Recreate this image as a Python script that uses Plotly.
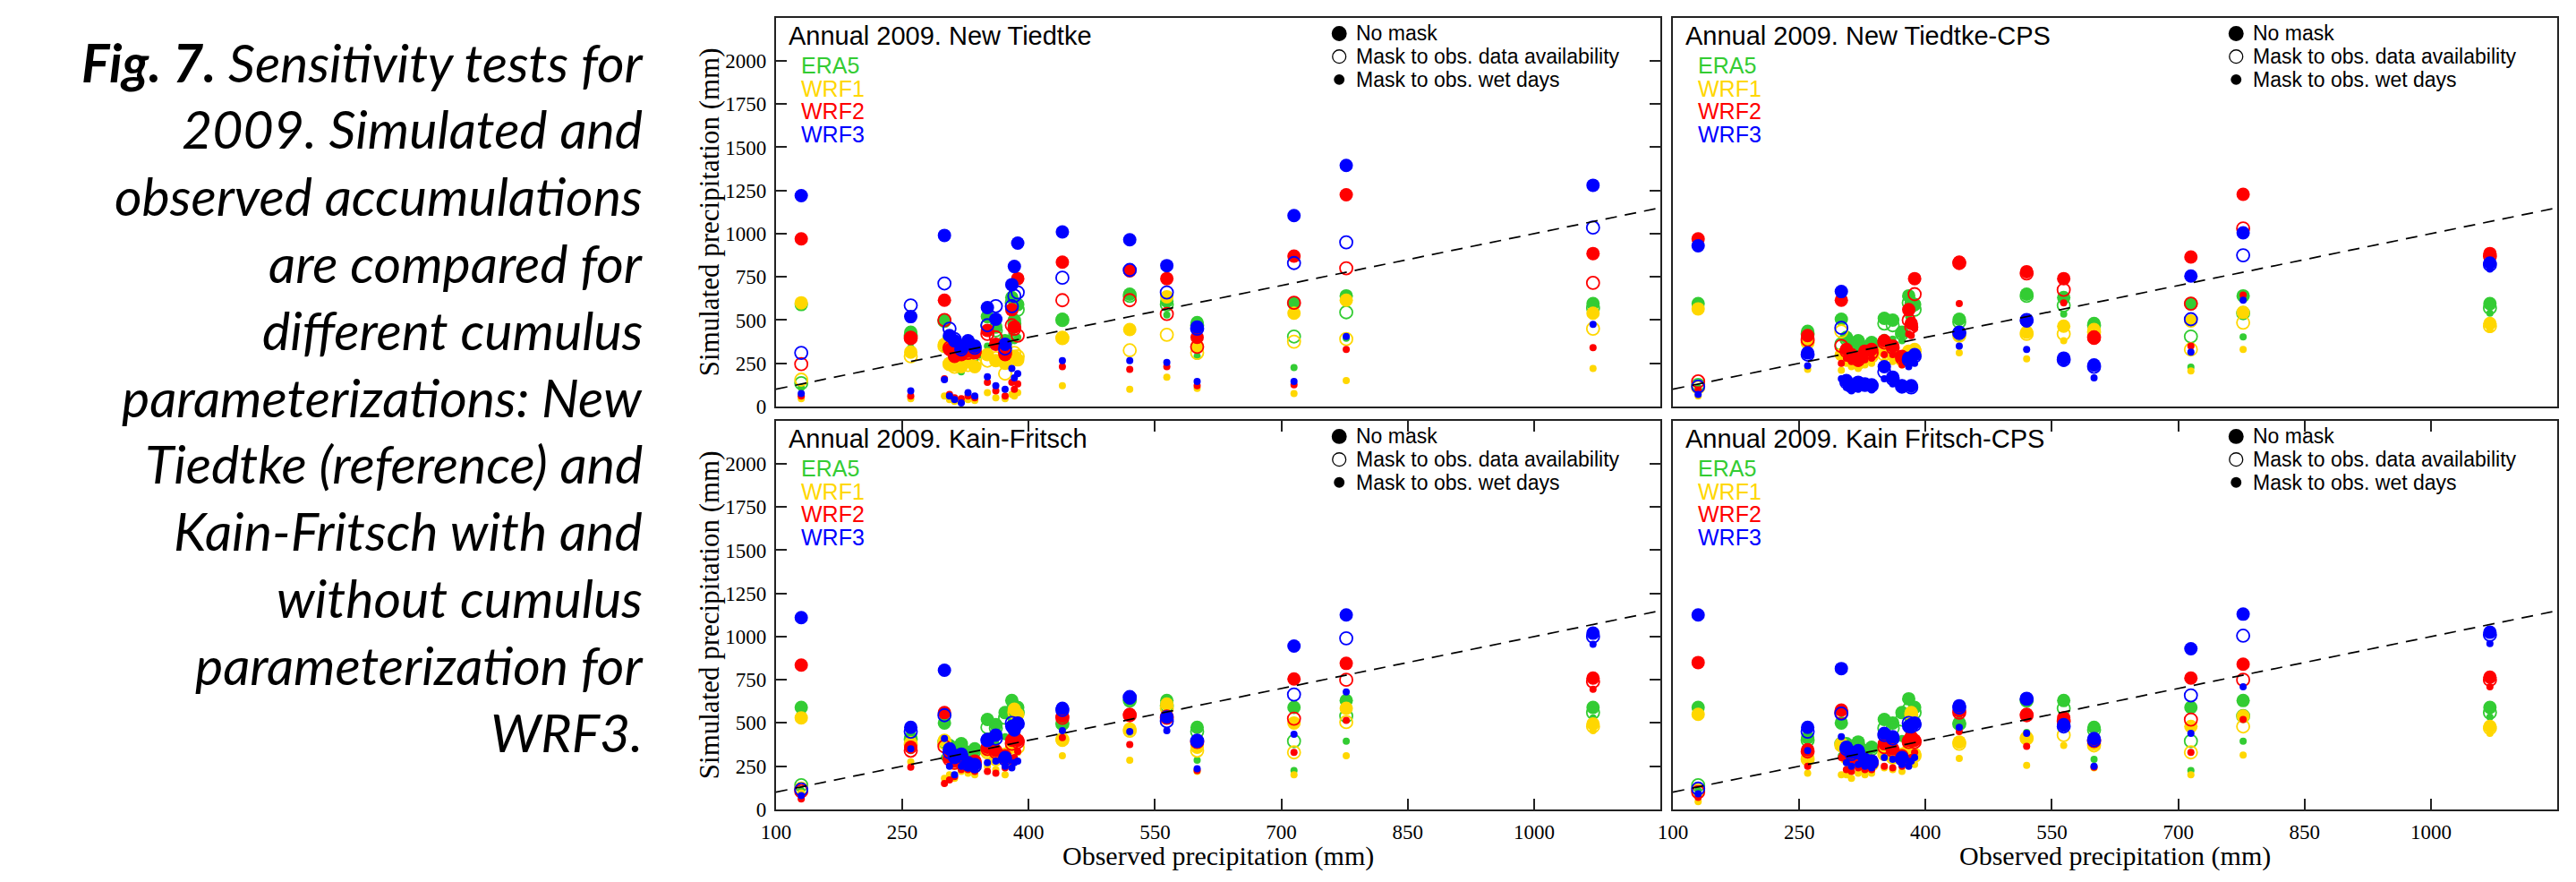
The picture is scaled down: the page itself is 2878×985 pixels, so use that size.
import plotly.graph_objects as go

# ---------------- data ----------------
OBS = [130, 260, 300, 306, 312, 320, 328, 336, 351, 361, 372, 380, 383, 387,
       440, 520, 564, 600, 715, 777, 1070]

# Panel 1: New Tiedtke
NT_ERA5_NOMASK = [590, 430, 500, 400, 330, 280, 340, 320, 520, 460, 380, 630, 500, 590, 505, 650, 610, 485, 595, 640, 595]
NT_ERA5_AVAIL = [135, 410, 495, 390, 320, 290, 330, 300, 470, 440, 360, 600, 480, 560, 500, 640, 590, 470, 405, 545, 570]
NT_ERA5_WET = [110, 340, 330, 250, 230, 200, 260, 240, 350, 280, 300, 420, 380, 400, 385, 435, 530, 290, 225, 395, 535]
NT_WRF1_NOMASK = [600, 315, 360, 250, 240, 230, 260, 230, 300, 265, 250, 290, 290, 270, 400, 445, 635, 350, 540, 615, 540]
NT_WRF1_AVAIL = [155, 290, 350, 245, 230, 250, 240, 250, 265, 280, 190, 280, 310, 290, 395, 325, 415, 310, 375, 390, 450]
NT_WRF1_WET = [45, 45, 60, 40, 30, 25, 40, 35, 80, 50, 45, 70, 60, 80, 120, 100, 170, 105, 75, 150, 220]
NT_WRF2_NOMASK = [970, 400, 615, 330, 290, 300, 320, 310, 440, 360, 300, 560, 460, 740, 835, 785, 740, 400, 870, 1225, 885]
NT_WRF2_AVAIL = [245, 395, 500, 340, 300, 310, 310, 320, 420, 400, 310, 470, 450, 410, 615, 615, 535, 345, 600, 800, 715]
NT_WRF2_WET = [60, 60, 160, 70, 50, 45, 60, 50, 140, 90, 60, 140, 100, 130, 230, 215, 230, 120, 125, 330, 340]
NT_WRF3_NOMASK = [1220, 520, 990, 410, 380, 340, 380, 350, 572, 505, 360, 705, 810, 945, 1010, 965, 815, 460, 1105, 1395, 1280]
NT_WRF3_AVAIL = [310, 585, 712, 450, 390, 330, 370, 340, 470, 581, 335, 580, 640, 660, 745, 790, 660, 450, 830, 950, 1035]
NT_WRF3_WET = [75, 90, 155, 60, 40, 20, 80, 60, 172, 120, 100, 220, 165, 190, 265, 265, 255, 145, 145, 405, 475]

# Panel 2: New Tiedtke-CPS
NTC_ERA5_NOMASK = [595, 435, 505, 400, 360, 380, 340, 370, 510, 500, 430, 640, 600, 590, 505, 650, 630, 480, 595, 640, 595]
NTC_ERA5_AVAIL = [125, 420, 360, 390, 350, 370, 330, 350, 480, 470, 420, 600, 580, 560, 490, 640, 585, 470, 405, 540, 570]
NTC_ERA5_WET = [110, 335, 290, 330, 300, 310, 290, 300, 400, 390, 380, 520, 500, 460, 395, 445, 535, 430, 228, 402, 540]
NTC_WRF1_NOMASK = [565, 380, 300, 320, 280, 260, 290, 300, 320, 310, 280, 320, 300, 330, 420, 430, 465, 445, 495, 545, 480]
NTC_WRF1_AVAIL = [110, 370, 435, 300, 270, 250, 280, 290, 300, 300, 270, 310, 290, 320, 410, 420, 420, 430, 330, 485, 465]
NTC_WRF1_WET = [60, 215, 210, 250, 230, 220, 240, 250, 260, 260, 240, 270, 260, 280, 310, 275, 380, 400, 206, 330, 445]
NTC_WRF2_NOMASK = [970, 410, 615, 330, 300, 280, 320, 330, 380, 350, 290, 560, 480, 740, 835, 780, 740, 395, 865, 1228, 885]
NTC_WRF2_AVAIL = [145, 385, 350, 320, 290, 270, 310, 310, 370, 340, 280, 500, 460, 650, 830, 770, 675, 400, 595, 1030, 870]
NTC_WRF2_WET = [95, 300, 250, 280, 260, 250, 270, 280, 300, 300, 240, 420, 410, 450, 595, 480, 600, 240, 350, 645, 810]
NTC_WRF3_NOMASK = [930, 310, 665, 150, 120, 140, 130, 125, 230, 170, 120, 280, 120, 300, 430, 495, 280, 240, 755, 1005, 830]
NTC_WRF3_AVAIL = [115, 300, 455, 140, 115, 130, 125, 120, 200, 160, 115, 270, 110, 290, 425, 500, 270, 230, 505, 875, 820]
NTC_WRF3_WET = [70, 235, 160, 110, 90, 100, 110, 95, 160, 130, 100, 230, 100, 250, 350, 330, 250, 165, 315, 615, 795]

# Panel 3: Kain-Fritsch
KF_ERA5_NOMASK = [590, 415, 500, 370, 340, 380, 330, 350, 520, 490, 560, 630, 520, 590, 500, 635, 630, 475, 590, 630, 590]
KF_ERA5_AVAIL = [140, 405, 390, 360, 330, 360, 320, 340, 475, 470, 530, 570, 500, 560, 495, 630, 600, 450, 395, 540, 560]
KF_ERA5_WET = [110, 340, 300, 300, 270, 300, 270, 280, 390, 380, 420, 450, 420, 480, 390, 445, 540, 285, 225, 395, 530]
KF_WRF1_NOMASK = [530, 385, 400, 330, 280, 290, 260, 260, 340, 300, 320, 360, 580, 550, 400, 465, 610, 360, 500, 585, 495]
KF_WRF1_AVAIL = [120, 375, 385, 310, 270, 280, 250, 250, 330, 290, 300, 340, 560, 360, 405, 455, 585, 340, 330, 505, 480]
KF_WRF1_WET = [95, 275, 180, 200, 180, 220, 210, 200, 250, 230, 200, 250, 350, 330, 310, 285, 560, 220, 200, 310, 455]
KF_WRF2_NOMASK = [835, 360, 560, 300, 280, 300, 270, 280, 360, 340, 310, 400, 420, 400, 540, 550, 540, 395, 755, 845, 760]
KF_WRF2_AVAIL = [105, 340, 365, 290, 270, 290, 260, 270, 350, 330, 300, 380, 410, 390, 530, 545, 530, 390, 525, 750, 740]
KF_WRF2_WET = [60, 245, 150, 170, 190, 230, 230, 220, 220, 210, 240, 280, 300, 335, 415, 375, 520, 225, 330, 515, 695]
KF_WRF3_NOMASK = [1110, 475, 805, 350, 300, 320, 270, 260, 405, 430, 300, 480, 460, 500, 585, 645, 535, 400, 945, 1125, 1020]
KF_WRF3_AVAIL = [115, 450, 545, 330, 310, 310, 260, 250, 400, 410, 290, 500, 480, 495, 575, 650, 510, 395, 665, 990, 1000]
KF_WRF3_WET = [80, 350, 410, 250, 200, 250, 240, 230, 270, 280, 250, 240, 270, 280, 455, 450, 455, 235, 435, 680, 955]

# Panel 4: Kain Fritsch-CPS
KFC_ERA5_NOMASK = [590, 415, 500, 380, 350, 390, 340, 360, 520, 500, 560, 640, 530, 590, 500, 635, 630, 475, 590, 630, 590]
KFC_ERA5_AVAIL = [140, 400, 380, 360, 330, 370, 330, 350, 470, 470, 520, 580, 500, 560, 495, 630, 585, 460, 395, 540, 560]
KFC_ERA5_WET = [110, 330, 310, 300, 280, 310, 270, 280, 390, 380, 410, 450, 420, 480, 390, 445, 540, 290, 225, 395, 535]
KFC_WRF1_NOMASK = [550, 300, 380, 310, 280, 290, 260, 270, 330, 310, 320, 350, 560, 320, 390, 415, 510, 380, 480, 540, 480]
KFC_WRF1_AVAIL = [110, 290, 370, 300, 270, 280, 250, 260, 320, 300, 300, 330, 550, 310, 380, 410, 430, 370, 330, 480, 470]
KFC_WRF1_WET = [45, 210, 200, 200, 180, 210, 200, 210, 240, 230, 220, 260, 340, 260, 295, 255, 370, 240, 200, 315, 440]
KFC_WRF2_NOMASK = [850, 345, 575, 320, 300, 310, 270, 280, 380, 350, 310, 400, 420, 400, 570, 550, 530, 400, 760, 840, 765]
KFC_WRF2_AVAIL = [100, 335, 560, 310, 290, 300, 260, 270, 360, 340, 300, 390, 400, 390, 560, 545, 510, 395, 520, 750, 750]
KFC_WRF2_WET = [70, 250, 300, 230, 220, 240, 230, 230, 250, 240, 250, 290, 300, 330, 450, 365, 500, 245, 330, 520, 710]
KFC_WRF3_NOMASK = [1125, 475, 815, 360, 330, 340, 290, 280, 440, 420, 300, 480, 490, 500, 600, 640, 490, 410, 930, 1130, 1025]
KFC_WRF3_AVAIL = [120, 450, 555, 350, 320, 330, 280, 270, 430, 410, 290, 500, 480, 490, 590, 640, 480, 400, 660, 1005, 1010]
KFC_WRF3_WET = [90, 340, 420, 270, 250, 260, 250, 240, 300, 290, 260, 250, 280, 300, 475, 440, 470, 250, 440, 710, 960]

PANEL_TITLES = ["Annual 2009. New Tiedtke", "Annual 2009. New Tiedtke-CPS",
                "Annual 2009. Kain-Fritsch", "Annual 2009. Kain Fritsch-CPS"]
MODELS = ["ERA5", "WRF1", "WRF2", "WRF3"]
MASKS = ["No mask", "Mask to obs. data availability", "Mask to obs. wet days"]
X_TICKS = [100, 250, 400, 550, 700, 850, 1000]
Y_TICKS = [0, 250, 500, 750, 1000, 1250, 1500, 1750, 2000]
ONE_TO_ONE = [100, 1150]
CAPTION = ["<b>Fig. 7.</b> Sensitivity tests for", "2009. Simulated and",
           "observed accumulations", "are compared for", "different cumulus",
           "parameterizations: New", "Tiedtke (reference) and",
           "Kain-Fritsch with and", "without cumulus",
           "parameterization for", "WRF3."]

PANEL_DATA = [
    [[NT_ERA5_NOMASK, NT_ERA5_AVAIL, NT_ERA5_WET], [NT_WRF1_NOMASK, NT_WRF1_AVAIL, NT_WRF1_WET],
     [NT_WRF2_NOMASK, NT_WRF2_AVAIL, NT_WRF2_WET], [NT_WRF3_NOMASK, NT_WRF3_AVAIL, NT_WRF3_WET]],
    [[NTC_ERA5_NOMASK, NTC_ERA5_AVAIL, NTC_ERA5_WET], [NTC_WRF1_NOMASK, NTC_WRF1_AVAIL, NTC_WRF1_WET],
     [NTC_WRF2_NOMASK, NTC_WRF2_AVAIL, NTC_WRF2_WET], [NTC_WRF3_NOMASK, NTC_WRF3_AVAIL, NTC_WRF3_WET]],
    [[KF_ERA5_NOMASK, KF_ERA5_AVAIL, KF_ERA5_WET], [KF_WRF1_NOMASK, KF_WRF1_AVAIL, KF_WRF1_WET],
     [KF_WRF2_NOMASK, KF_WRF2_AVAIL, KF_WRF2_WET], [KF_WRF3_NOMASK, KF_WRF3_AVAIL, KF_WRF3_WET]],
    [[KFC_ERA5_NOMASK, KFC_ERA5_AVAIL, KFC_ERA5_WET], [KFC_WRF1_NOMASK, KFC_WRF1_AVAIL, KFC_WRF1_WET],
     [KFC_WRF2_NOMASK, KFC_WRF2_AVAIL, KFC_WRF2_WET], [KFC_WRF3_NOMASK, KFC_WRF3_AVAIL, KFC_WRF3_WET]],
]

# ---------------- styling ----------------
W, H = 2878, 985
COLORS = ["#33cc33", "#ffd700", "#ff0000", "#0000ff"]
SANS = "Liberation Sans, Arial, sans-serif"
SERIF = "Liberation Serif, Times New Roman, serif"
CAPFONT = "Lato, Open Sans, sans-serif"
AXC = "#222222"

# panel boxes in pixels: left, right, top, bottom
BOXES = [(855, 1849, 20, 460), (1863, 2857, 20, 460),
         (855, 1849, 476, 916), (1863, 2857, 476, 916)]


def fx(X):
    return X / W


def fy(Y):
    return 1 - Y / H


fig = go.Figure()

for p in range(4):
    xa = "x" if p == 0 else f"x{p+1}"
    ya = "y" if p == 0 else f"y{p+1}"
    for m in range(4):
        nomask, avail, wet = PANEL_DATA[p][m]
        c = COLORS[m]
        fig.add_trace(go.Scatter(x=OBS, y=nomask, mode="markers", xaxis=xa, yaxis=ya,
                                 marker=dict(symbol="circle", size=15, color=c, line=dict(width=0)),
                                 showlegend=False, cliponaxis=False))
        fig.add_trace(go.Scatter(x=OBS, y=avail, mode="markers", xaxis=xa, yaxis=ya,
                                 marker=dict(symbol="circle-open", size=14, color=c, line=dict(width=1.8, color=c)),
                                 showlegend=False, cliponaxis=False))
        fig.add_trace(go.Scatter(x=OBS, y=wet, mode="markers", xaxis=xa, yaxis=ya,
                                 marker=dict(symbol="circle", size=8, color=c, line=dict(width=0)),
                                 showlegend=False, cliponaxis=False))
    fig.add_trace(go.Scatter(x=ONE_TO_ONE, y=ONE_TO_ONE, mode="lines", xaxis=xa, yaxis=ya,
                             line=dict(color="black", width=1.7, dash="13px,9px"),
                             showlegend=False, hoverinfo="skip"))

layout = dict(width=W, height=H, margin=dict(l=0, r=0, t=0, b=0),
              paper_bgcolor="white", plot_bgcolor="white", showlegend=False)

for p, (l, r, t, b) in enumerate(BOXES):
    sx = "" if p == 0 else str(p + 1)
    top_row = p < 2
    left_col = p % 2 == 0
    xaxis = dict(domain=[fx(l), fx(r)], range=[100, 1150], anchor="y" + sx,
                 showline=True, linecolor=AXC, linewidth=2, showgrid=False, zeroline=False,
                 tickvals=X_TICKS, ticktext=[str(v) for v in X_TICKS],
                 tickfont=dict(family=SERIF, size=23, color="black"),
                 fixedrange=True)
    yaxis = dict(domain=[fy(b), fy(t)], range=[0, 2250], anchor="x" + sx,
                 showline=True, linecolor=AXC, linewidth=2, showgrid=False, zeroline=False,
                 tickvals=Y_TICKS, ticktext=[str(v) for v in Y_TICKS],
                 tickfont=dict(family=SERIF, size=23, color="black"),
                 fixedrange=True)
    if top_row:
        xaxis.update(ticks="", showticklabels=False, mirror=True)
    else:
        xaxis.update(ticks="inside", ticklen=12, tickwidth=1.5, tickcolor=AXC,
                     mirror="ticks", showticklabels=True, ticklabelstandoff=3)
    if left_col:
        yaxis.update(ticks="inside", ticklen=12, tickwidth=1.5, tickcolor=AXC,
                     mirror="ticks", showticklabels=True, ticklabelstandoff=4)
    else:
        yaxis.update(ticks="", showticklabels=False, mirror=True)
    layout["xaxis" + sx] = xaxis
    layout["yaxis" + sx] = yaxis

fig.update_layout(**layout)

annotations = []
shapes = []
for p, (l, r, t, b) in enumerate(BOXES):
    annotations.append(dict(text=PANEL_TITLES[p], x=fx(l + 12), y=fy(t + 21), xref="paper", yref="paper",
                            xanchor="left", yanchor="middle", showarrow=False,
                            font=dict(family=SANS, size=29, color="black")))
    for m, name in enumerate(MODELS):
        annotations.append(dict(text=name, x=fx(l + 26), y=fy(t + 54 + 26 * m), xref="paper", yref="paper",
                                xanchor="left", yanchor="middle", showarrow=False,
                                font=dict(family=SANS, size=25, color=COLORS[m])))
    for k, name in enumerate(MASKS):
        cy = t + 18 + 26 * k
        annotations.append(dict(text=name, x=fx(l + 650), y=fy(cy), xref="paper", yref="paper",
                                xanchor="left", yanchor="middle", showarrow=False,
                                font=dict(family=SANS, size=23, color="black")))
        cx = l + 633
        rad = [8.5, 7.5, 6][k]
        shapes.append(dict(type="circle", xref="paper", yref="paper",
                           x0=fx(cx - rad), x1=fx(cx + rad), y0=fy(cy + rad), y1=fy(cy - rad),
                           fillcolor="black" if k != 1 else "rgba(0,0,0,0)",
                           line=dict(color="black", width=1.3 if k == 1 else 0)))
    if p % 2 == 0:
        annotations.append(dict(text="Simulated precipitation (mm)", x=fx(780), y=fy((t + b) / 2),
                                xref="paper", yref="paper", xanchor="center", yanchor="middle",
                                textangle=-90, showarrow=False,
                                font=dict(family=SERIF, size=31, color="black")))
    if p >= 2:
        annotations.append(dict(text="Observed precipitation (mm)", x=fx((l + r) / 2), y=fy(969),
                                xref="paper", yref="paper", xanchor="center", yanchor="middle",
                                showarrow=False, font=dict(family=SERIF, size=30, color="black")))

for i, line in enumerate(CAPTION):
    annotations.append(dict(text="<i>" + line + "</i>", x=fx(707), y=fy(70 + 75.8 * i),
                            xref="paper", yref="paper", xanchor="right", yanchor="middle",
                            showarrow=False, font=dict(family=CAPFONT, size=59, color="black")))

fig.update_layout(annotations=annotations, shapes=shapes)

fig.write_html("out.html", config={"displayModeBar": False},
               post_script="document.body.style.margin='0';document.body.style.overflow='hidden';")
